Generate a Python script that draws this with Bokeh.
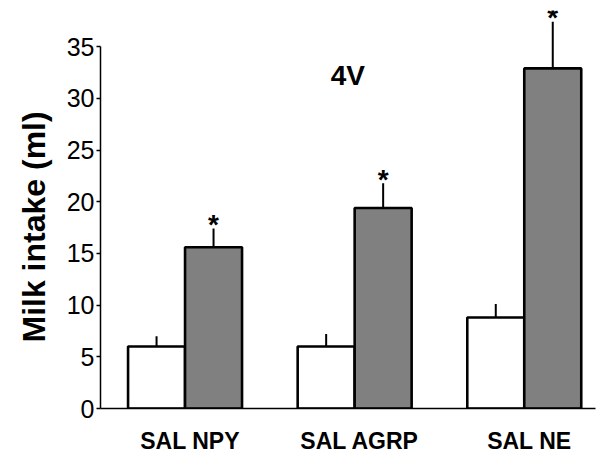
from bokeh.plotting import figure
from bokeh.models import Range1d, ColumnDataSource, Label, FixedTicker, Title
from bokeh.core.properties import value
from bokeh.embed import file_html
from bokeh.resources import INLINE

# ---- data ----
groups = ["SAL NPY", "SAL AGRP", "SAL NE"]
sal_mean = [6.0, 6.0, 8.8]
sal_err = [1.0, 1.2, 1.3]
drug_mean = [15.6, 19.4, 32.9]
drug_err = [1.8, 2.4, 4.5]
significant = [True, True, True]
y_ticks = [0, 5, 10, 15, 20, 25, 30, 35]
title_text = "4V"
y_label = "Milk intake (ml)"

FONT = "Liberation Sans"
W, H = 596, 456
LEFT, TOP, BOTTOM = 100, 10, 48
bar_w = 0.336
off = 0.168
idx = list(range(len(groups)))

p = figure(width=W, height=H, output_backend="svg", toolbar_location=None,
           x_range=Range1d(-0.4985, 2.42), y_range=Range1d(0, 38.5),
           min_border_left=LEFT, min_border_right=1, min_border_top=TOP, min_border_bottom=BOTTOM)
p.outline_line_color = None
p.grid.visible = False
p.background_fill_color = "white"

sal_x = [i - off for i in idx]
drug_x = [i + off for i in idx]

src_s = ColumnDataSource(dict(x=sal_x, top=sal_mean, etop=[m + e for m, e in zip(sal_mean, sal_err)]))
src_d = ColumnDataSource(dict(x=drug_x, top=drug_mean, etop=[m + e for m, e in zip(drug_mean, drug_err)]))

# error bars (upper only)
p.segment(x0="x", y0="top", x1="x", y1="etop", source=src_s, line_color="black", line_width=2)
p.segment(x0="x", y0="top", x1="x", y1="etop", source=src_d, line_color="black", line_width=2)

p.vbar(x="x", top="top", bottom=0, width=bar_w, source=src_s,
       fill_color="white", line_color="black", line_width=2.6)
p.vbar(x="x", top="top", bottom=0, width=bar_w, source=src_d,
       fill_color="#808080", line_color="black", line_width=2.6)

# significance asterisks
ax = [x for x, s in zip(drug_x, significant) if s]
ay = [m + e for m, e, s in zip(drug_mean, drug_err, significant) if s]
p.text(x=ax, y=ay, text=["*"] * len(ax), text_align="center", text_baseline="alphabetic",
       y_offset=-4, text_font=value(FONT), text_font_style="bold", text_font_size="28px",
       text_color="black")

# panel title
p.add_layout(Label(x=0.96, y=32.2, text=title_text, text_align="center",
                   text_baseline="alphabetic", text_font=FONT, text_font_style="bold",
                   text_font_size="28px", text_color="black"))

# y axis title, placed as a side title so it can be shifted along the axis
p.add_layout(Title(text=y_label, align="left", offset=66, standoff=24,
                   text_font=FONT, text_font_style="bold", text_font_size="32px",
                   text_color="black"), "left")

# y axis
yax = p.yaxis[0]
yax.ticker = FixedTicker(ticks=y_ticks)
yax.bounds = (0, 35)
yax.minor_tick_line_color = None
yax.major_tick_in = 0
yax.major_tick_out = 4
yax.major_tick_line_width = 1.5
yax.axis_line_width = 1.5
yax.axis_line_color = "black"
yax.major_label_standoff = 2
yax.major_label_text_font = FONT
yax.major_label_text_font_size = "25px"
yax.major_label_text_color = "black"

# x axis
xax = p.xaxis[0]
label_shift = 0.03
xax.ticker = FixedTicker(ticks=[i + label_shift for i in idx])
xax.major_label_overrides = {i + label_shift: g for i, g in zip(idx, groups)}
xax.major_tick_line_color = None
xax.minor_tick_line_color = None
xax.major_tick_in = 0
xax.major_tick_out = 0
xax.axis_line_width = 1.5
xax.axis_line_color = "black"
xax.major_label_standoff = 19
xax.major_label_text_font = FONT
xax.major_label_text_font_style = "bold"
xax.major_label_text_font_size = "23px"
xax.major_label_text_color = "black"

open("out.html", "w").write(file_html(p, INLINE))
